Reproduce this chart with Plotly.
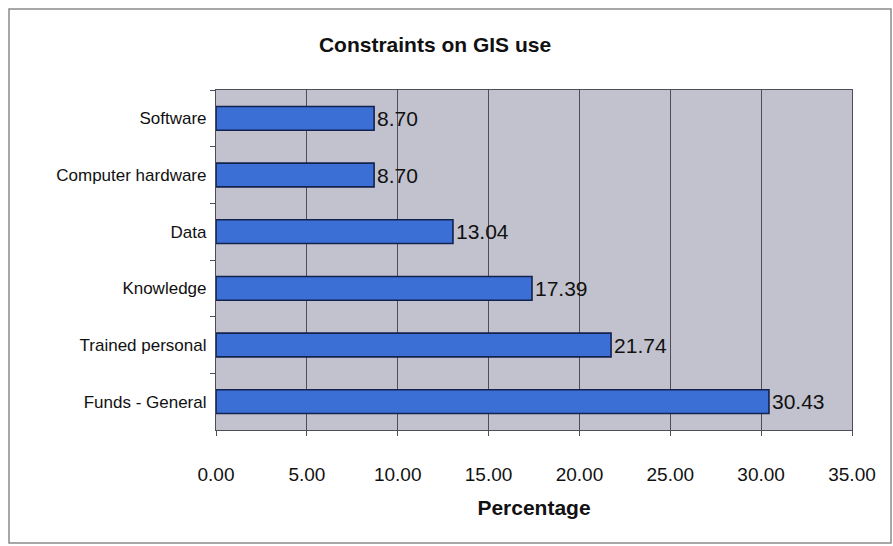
import plotly.graph_objects as go

# Survey responses: share of respondents naming each constraint (%)
categories = ["Software", "Computer hardware", "Data", "Knowledge",
              "Trained personal", "Funds - General"]
percentages = [8.70, 8.70, 13.04, 17.39, 21.74, 30.43]
x_ticks = [0, 5, 10, 15, 20, 25, 30, 35]
x_tick_labels = [f"{v:.2f}" for v in x_ticks]

W, H = 893, 546
L, R, T, B = 216, 852, 90, 430  # plot-area edges in pixels

FONT = "Liberation Sans, Arial, sans-serif"

fig = go.Figure(
    go.Bar(
        y=categories,
        x=percentages,
        orientation="h",
        width=0.42,
        marker=dict(color="#3b6fd6", line=dict(color="#14224e", width=1.6)),
        text=[f"{v:.2f}" for v in percentages],
        textposition="outside",
        textfont=dict(family=FONT, size=21, color="#111111"),
        cliponaxis=False,
        hoverinfo="skip",
    )
)

def px_x(p):
    return (p - L) / (R - L)

def px_y(p):
    return (B - p) / (B - T)

fig.update_layout(
    width=W,
    height=H,
    margin=dict(l=L, r=W - R, t=T, b=H - B, pad=0),
    paper_bgcolor="white",
    plot_bgcolor="#c2c2ce",
    showlegend=False,
    font=dict(family=FONT, color="#111111"),
    title=dict(
        text="<b>Constraints on GIS use</b>",
        font=dict(family=FONT, size=21, color="#111111"),
        x=435 / W,
        xanchor="center",
        y=1 - 45 / H,
        yanchor="middle",
        xref="container",
        yref="container",
    ),
    xaxis=dict(
        range=[0, 35],
        tickvals=x_ticks,
        ticktext=x_tick_labels,
        showgrid=True,
        gridcolor="#4e4e5a",
        gridwidth=1,
        showline=True,
        linecolor="#4e4e5a",
        linewidth=1.2,
        mirror=True,
        ticks="outside",
        ticklen=5,
        tickcolor="#4e4e5a",
        ticklabelstandoff=22,
        tickfont=dict(family=FONT, size=19, color="#111111"),
        zeroline=False,
        title=dict(
            text="<b>Percentage</b>",
            font=dict(family=FONT, size=21, color="#111111"),
            standoff=16,
        ),
        fixedrange=True,
    ),
    yaxis=dict(
        categoryorder="array",
        categoryarray=categories,
        autorange="reversed",
        showgrid=False,
        showline=True,
        linecolor="#4e4e5a",
        linewidth=1.2,
        mirror=True,
        ticks="outside",
        tickson="boundaries",
        ticklen=5,
        tickcolor="#4e4e5a",
        ticklabelstandoff=5,
        tickfont=dict(family=FONT, size=17, color="#111111"),
        fixedrange=True,
    ),
    shapes=[
        dict(
            type="rect",
            xref="paper",
            yref="paper",
            x0=px_x(9),
            x1=px_x(891),
            y0=px_y(543),
            y1=px_y(9),
            line=dict(color="#8a8a8a", width=1.5),
            fillcolor="rgba(0,0,0,0)",
            layer="below",
        )
    ],
)

fig.write_html("out.html")
